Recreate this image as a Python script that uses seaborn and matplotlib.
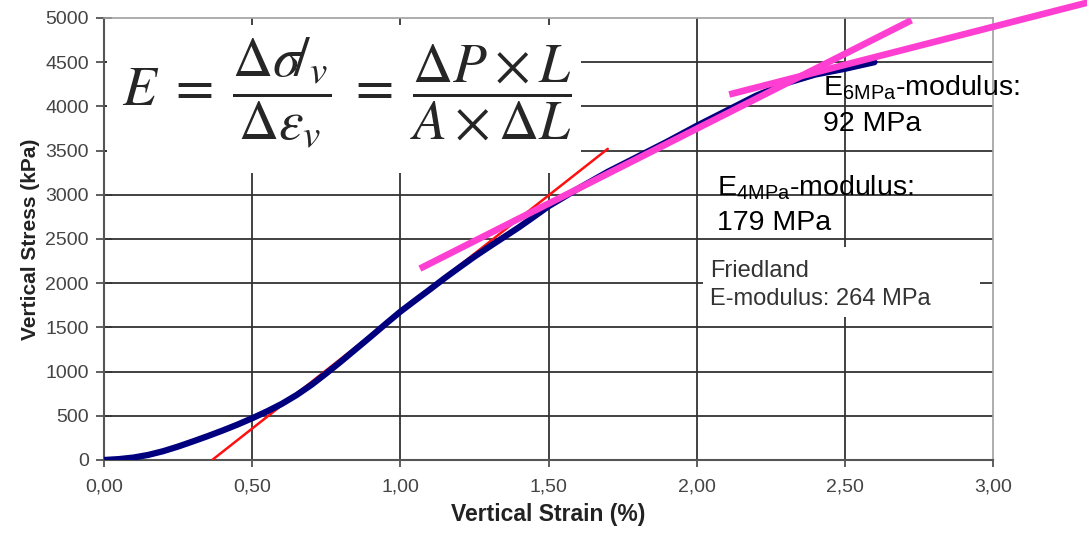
import numpy as np
import pandas as pd
import seaborn as sns
import matplotlib.pyplot as plt
from matplotlib.patches import Rectangle

# stress-strain curve
strain = [0.00, 0.05, 0.10, 0.15, 0.20, 0.25, 0.30, 0.35, 0.40, 0.45, 0.50,
          0.55, 0.60, 0.65, 0.70, 0.75, 0.80, 0.85, 0.90, 0.95, 1.00,
          1.05, 1.10, 1.15, 1.20, 1.25, 1.30, 1.35, 1.40, 1.45, 1.50,
          1.60, 1.70, 1.80, 1.90, 2.00, 2.10, 2.20, 2.30, 2.40, 2.50, 2.60]
stress = [0, 10, 28, 58, 100, 152, 210, 270, 333, 400, 472,
          550, 635, 735, 850, 980, 1115, 1255, 1395, 1538, 1678,
          1805, 1930, 2058, 2180, 2300, 2412, 2522, 2632, 2750, 2870,
          3070, 3260, 3430, 3600, 3780, 3950, 4120, 4260, 4360, 4425, 4500]

# modulus lines (end points)
friedland_x = [0.365, 1.70]
friedland_y = [0, 3520]
e4_x = [1.066, 2.725]
e4_y = [2165, 4975]
e6_x = [2.11, 3.32]
e6_y = [4135, 5175]

xticks = [0.0, 0.5, 1.0, 1.5, 2.0, 2.5, 3.0]
xticklabels = ['0,00', '0,50', '1,00', '1,50', '2,00', '2,50', '3,00']
yticks = list(range(0, 5001, 500))

df = pd.DataFrame({'Strain': strain, 'Stress': stress})

sns.set_theme(style='white')
plt.rcParams['font.family'] = ['Liberation Sans', 'DejaVu Sans']

fig = plt.figure(figsize=(10.87, 5.34), dpi=100)
ax = fig.add_axes([0.0957, 0.1386, 0.8178, 0.8277])

ax.set_xlim(0, 3)
ax.set_ylim(0, 5000)
ax.set_xticks(xticks)
ax.set_xticklabels(xticklabels)
ax.set_yticks(yticks)

for v in xticks[1:-1]:
    ax.axvline(v, color='#333333', lw=1.3, zorder=1)
for v in yticks[1:-1]:
    ax.axhline(v, color='#333333', lw=1.3, zorder=1)

# white boxes behind the formula and the Friedland label
ax.add_patch(Rectangle((0.01, 3250), 1.60, 1670, facecolor='white',
                       edgecolor='none', zorder=2))
ax.add_patch(Rectangle((2.022, 1620), 0.935, 790, facecolor='white',
                       edgecolor='none', zorder=2))

sns.lineplot(x=friedland_x, y=friedland_y, ax=ax, color='#ff1010', lw=1.8,
             zorder=3)
sns.lineplot(data=df, x='Strain', y='Stress', ax=ax, color='#00007f', lw=4.5,
             zorder=4)
sns.lineplot(x=e4_x, y=e4_y, ax=ax, color='#ff3fd2', lw=4.8, zorder=5,
             solid_capstyle='butt')
sns.lineplot(x=e6_x, y=e6_y, ax=ax, color='#ff3fd2', lw=4.8, zorder=5,
             solid_capstyle='butt', clip_on=False)

ax.text(0.818, 4150,
        r'$E\;=\;\dfrac{\Delta\sigma\!/_{v}}{\Delta\varepsilon_{v}}\;=\;'
        r'\dfrac{\Delta P\times L}{A\times\Delta L}$',
        fontsize=40, math_fontfamily='stix', ha='center', va='center',
        zorder=6)

ax.text(2.427, 4129, r'E$_{\mathregular{6MPa}}$-modulus:', fontsize=20.5,
        color='black', va='baseline', zorder=6)
ax.text(2.427, 3722, '92 MPa', fontsize=20.5, color='black',
        va='baseline', zorder=6)
ax.text(2.067, 2998, r'E$_{\mathregular{4MPa}}$-modulus:', fontsize=20.5,
        color='black', va='baseline', zorder=6)
ax.text(2.067, 2602, '179 MPa', fontsize=20.5, color='black',
        va='baseline', zorder=6)
ax.text(2.045, 2070, 'Friedland', fontsize=17, color='#333333',
        va='baseline', zorder=6)
ax.text(2.045, 1753, 'E-modulus: 264 MPa', fontsize=17, color='#333333',
        va='baseline', zorder=6)

ax.set_xlabel('Vertical Strain (%)', fontsize=16.5, fontweight='bold',
              color='#222222', labelpad=6)
ax.set_ylabel('Vertical Stress (kPa)', fontsize=15, fontweight='bold',
              color='#222222', labelpad=4)

ax.tick_params(axis='x', direction='out', length=5, width=1.2,
               colors='#444444', labelsize=14, pad=8, bottom=True)
ax.tick_params(axis='y', direction='inout', length=12, width=1.2,
               colors='#444444', labelsize=14, pad=5, left=True)

ax.spines['left'].set_color('#555555')
ax.spines['bottom'].set_color('#555555')
ax.spines['left'].set_linewidth(1.5)
ax.spines['bottom'].set_linewidth(1.5)
ax.spines['top'].set_color('#a0a0a0')
ax.spines['right'].set_color('#a0a0a0')
ax.spines['top'].set_linewidth(1.2)
ax.spines['right'].set_linewidth(1.2)

plt.savefig('out.png', dpi=100)
